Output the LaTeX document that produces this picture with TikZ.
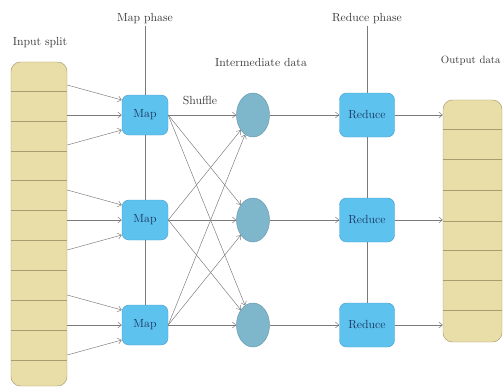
\documentclass[tikz,border=0pt]{standalone}
\usetikzlibrary{shapes.geometric,arrows.meta,calc}

\definecolor{splitfill}{HTML}{E9DEA8}
\definecolor{splitline}{HTML}{A99C70}
\definecolor{mapfill}{HTML}{5DC2EE}
\definecolor{mapline}{HTML}{4A9FCF}
\definecolor{midfill}{HTML}{7EB6CB}
\definecolor{midline}{HTML}{6598AE}
\definecolor{linegray}{HTML}{7A7A7A}
\definecolor{nodetext}{HTML}{1D3A66}
\definecolor{lbltext}{HTML}{3A3A3A}

\begin{document}
\begin{tikzpicture}[x=0.03cm,y=-0.03cm,
    arr/.style={draw=linegray,-{Straight Barb[length=3pt,width=5pt]}},
    splitbox/.style={draw=splitline,fill=splitfill,rounded corners=8pt},
    mapbox/.style={draw=mapline,fill=mapfill,rounded corners=6pt,text=nodetext,
        minimum width=1.38cm,minimum height=1.2cm},
    redbox/.style={mapbox,minimum width=1.65cm,minimum height=1.32cm},
    midnode/.style={ellipse,draw=midline,fill=midfill,inner sep=0pt,
        minimum width=0.99cm,minimum height=1.32cm},
    lbl/.style={text=lbltext,inner sep=1pt}]
    \useasboundingbox (0,0) rectangle (503,388);

    % labels
    \node[lbl] (mp) at (145,19) {Map phase};
    \node[lbl] (rp) at (367,19) {Reduce phase};
    \node[lbl] (il) at (40,43) {Input split};
    \node[lbl] (ml) at (261,62) {Intermediate data};
    \node[lbl,anchor=east,font=\small] (ol) at (502,61) {Output data};
    \node[lbl] (sh) at (200,100) {Shuffle};

    % input and output blocks
    \node[splitbox,minimum width=1.68cm,minimum height=9.72cm] (in) at (39,224) {};
    \foreach \y in {91,121,151,180,210,240,270,300,330,360}
        \draw[splitline] (in.west |- 0,\y) -- (in.east |- 0,\y);
    \node[splitbox,minimum width=1.77cm,minimum height=7.26cm] (out) at (472.5,221) {};
    \foreach \y in {129,159,190,221,250,280,310}
        \draw[splitline] (out.west |- 0,\y) -- (out.east |- 0,\y);

    % map, intermediate and reduce nodes
    \foreach \i/\y in {1/115,2/220,3/325} {
        \node[mapbox] (m\i) at (145,\y) {Map};
        \node[midnode] (c\i) at (253,\y) {};
        \node[redbox] (r\i) at (367,\y) {Reduce};
    }

    \draw[linegray] (mp) -- (m1) -- (m2) -- (m3);
    \draw[linegray] (rp) -- (r1) -- (r2) -- (r3);

    \foreach \i in {1,2,3} {
        \foreach \d in {-30,0,30}
            \draw[arr] (in.east |- m\i) ++(0,\d) -- ($(m\i.west)+(0,\d/2)$);
        \foreach \j in {1,2,3}
            \draw[arr] (m\i.east) -- (c\j);
        \draw[arr] (c\i) -- (r\i);
        \draw[arr] (r\i) -- (r\i -| out.west);
    }
\end{tikzpicture}
\end{document}
